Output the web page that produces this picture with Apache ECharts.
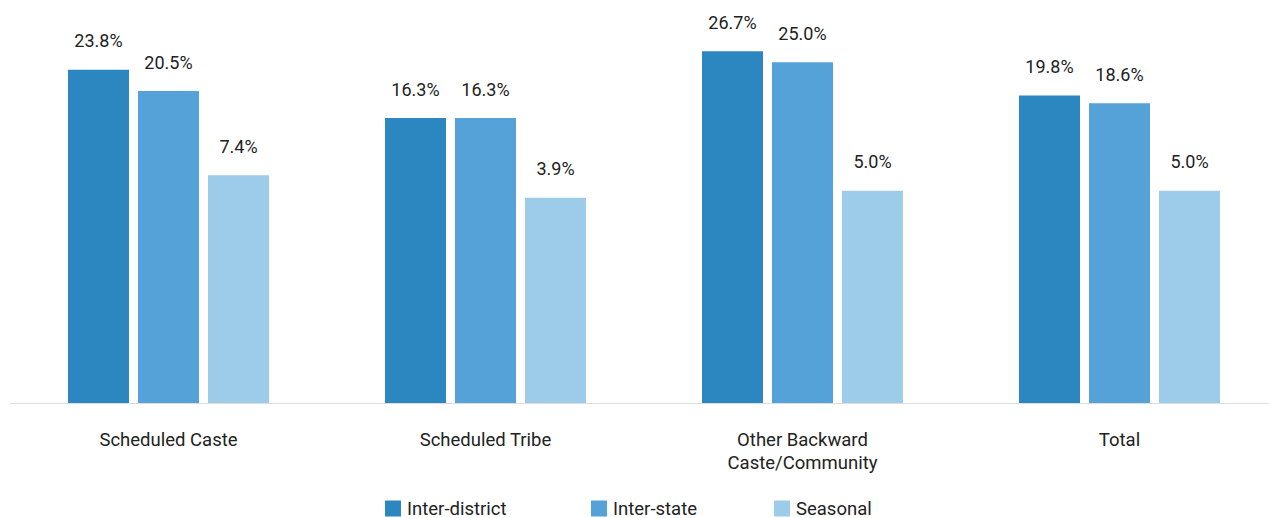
<!DOCTYPE html>
<html>
<head>
<meta charset="utf-8">
<style>
  html, body { margin: 0; padding: 0; background: #fff; }
  #chart { width: 1269px; height: 518px; }
</style>
<script src="https://cdn.jsdelivr.net/npm/echarts@6/dist/echarts.min.js"></script>
</head>
<body>
<div id="chart"></div>
<script>
// Migration rates by social group (%)
const categories = ['Scheduled Caste', 'Scheduled Tribe', 'Other Backward\nCaste/Community', 'Total'];
const interDistrict = [23.8, 16.3, 26.7, 19.8];
const interState = [20.5, 16.3, 25.0, 18.6];
const seasonal = [7.4, 3.9, 5.0, 5.0];
const seriesNames = ['Inter-district', 'Inter-state', 'Seasonal'];

const colors = ['#2c86bf', '#55a2d9', '#9dcbea'];
const Y_MIN = -28;
const Y_MAX = 30;
const BAR_W = 61;
const BAR_STEP = 70;
const FONT = 'Roboto, "Noto Sans", sans-serif';

const chart = echarts.init(document.getElementById('chart'), null, { renderer: 'svg' });

// Bars rise from the bottom of the value axis, so they are drawn as custom rects
function makeRenderer(slot) {
  return function (params, api) {
    const cat = api.value(0);
    const val = api.value(1);
    const top = api.coord([cat, val]);
    const base = api.coord([cat, Y_MIN]);
    const cx = top[0] + (slot - 1) * BAR_STEP;
    return {
      type: 'group',
      children: [
        {
          type: 'rect',
          shape: { x: cx - BAR_W / 2, y: top[1], width: BAR_W, height: base[1] - top[1] },
          style: { fill: colors[slot] }
        },
        {
          type: 'text',
          x: cx,
          y: top[1] - 29,
          style: {
            text: val.toFixed(1) + '%',
            fill: '#222',
            font: '18px ' + FONT,
            align: 'center',
            verticalAlign: 'middle'
          }
        }
      ]
    };
  };
}

const seriesData = [interDistrict, interState, seasonal];
const legendLefts = [385, 591, 774];

chart.setOption({
  animation: false,
  textStyle: { fontFamily: FONT },
  grid: {
    left: 10, top: 30, width: 1268, bottom: 115,
    containLabel: false,
    outerBoundsMode: 'none'
  },
  legend: seriesNames.map((name, i) => ({
    data: [name],
    left: legendLefts[i],
    top: 499,
    icon: 'rect',
    itemWidth: 16,
    itemHeight: 16,
    itemGap: 0,
    padding: 0,
    selectedMode: false,
    textStyle: {
      fontSize: 18.5, lineHeight: 18, color: '#222', fontFamily: FONT,
      padding: [0, 0, 0, 1]
    }
  })),
  xAxis: {
    type: 'category',
    data: categories,
    axisLine: { show: true, onZero: false, lineStyle: { color: '#dddddd', width: 1 } },
    axisTick: { show: false },
    axisLabel: {
      fontSize: 18.5,
      color: '#222',
      lineHeight: 23,
      margin: 25,
      fontFamily: FONT,
      interval: 0
    }
  },
  yAxis: {
    type: 'value',
    min: Y_MIN,
    max: Y_MAX,
    show: false,
    splitLine: { show: false }
  },
  series: seriesNames.map((name, i) => ({
    name: name,
    type: 'custom',
    itemStyle: { color: colors[i] },
    renderItem: makeRenderer(i),
    encode: { x: 0, y: 1 },
    data: seriesData[i].map((v, j) => [j, v])
  }))
});
</script>
</body>
</html>
